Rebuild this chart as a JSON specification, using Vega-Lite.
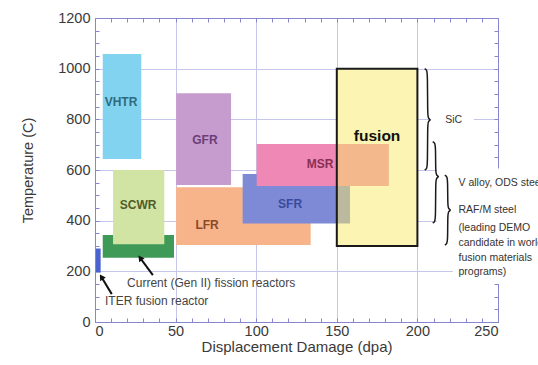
{
  "$schema": "https://vega.github.io/schema/vega-lite/v6.json",
  "width": 403,
  "height": 304,
  "autosize": {"type": "none"},
  "padding": {"left": 95, "top": 18, "right": 40, "bottom": 43},
  "background": "white",
  "config": {"view": {"stroke": null}, "font": "Liberation Sans"},
  "datasets": {
    "boxes": [
      {"name": "Gen II", "x0": 4.8, "x1": 49, "y0": 254, "y1": 343},
      {"name": "ITER", "x0": 0.6, "x1": 3.5, "y0": 195, "y1": 290},
      {"name": "SCWR", "x0": 11.2, "x1": 43, "y0": 307, "y1": 600},
      {"name": "VHTR", "x0": 4.8, "x1": 28.7, "y0": 643, "y1": 1058},
      {"name": "LFR", "x0": 50.3, "x1": 133.8, "y0": 304, "y1": 532},
      {"name": "GFR", "x0": 50.3, "x1": 84.4, "y0": 541, "y1": 903},
      {"name": "SFR", "x0": 91.6, "x1": 158.2, "y0": 389, "y1": 584},
      {"name": "MSR", "x0": 100.3, "x1": 182.3, "y0": 537, "y1": 703}
    ],
    "fusion": [{"name": "fusion", "x0": 150, "x1": 200, "y0": 300, "y1": 1000, "lx": 175, "ly": 734}],
    "labels": [
      {"label": "VHTR", "x": 16.1, "y": 869},
      {"label": "GFR", "x": 68.2, "y": 718},
      {"label": "SCWR", "x": 26.7, "y": 462},
      {"label": "LFR", "x": 69.5, "y": 383},
      {"label": "SFR", "x": 121, "y": 466},
      {"label": "MSR", "x": 139.6, "y": 624}
    ],
    "masks": [
      {"x0": 208.5, "x1": 235, "y0": 768, "y1": 832},
      {"x0": 212, "x1": 285, "y0": 215, "y1": 606},
      {"x0": 222, "x1": 285, "y0": 150, "y1": 215}
    ],
    "notes": [
      {"text": "SiC", "x": 217.3, "y": 798},
      {"text": "V alloy, ODS steel", "x": 225.5, "y": 549},
      {"text": "RAF/M steel", "x": 225.5, "y": 442},
      {"text": "(leading DEMO", "x": 225.5, "y": 372},
      {"text": "candidate in world", "x": 225.5, "y": 312},
      {"text": "fusion materials", "x": 225.5, "y": 254},
      {"text": "programs)", "x": 225.5, "y": 199}
    ],
    "bottomNotes": [
      {"text": "Current (Gen II) fission reactors", "x": 19.9, "y": 154},
      {"text": "ITER fusion reactor", "x": 6.2, "y": 83}
    ],
    "braces": [
      {"b": 1, "o": 1, "x": 204.5, "y": 1000}, {"b": 1, "o": 2, "x": 205.8, "y": 995}, {"b": 1, "o": 3, "x": 206.3, "y": 980}, {"b": 1, "o": 4, "x": 206.3, "y": 815}, {"b": 1, "o": 5, "x": 206.8, "y": 803}, {"b": 1, "o": 6, "x": 208.4, "y": 798}, {"b": 1, "o": 7, "x": 206.8, "y": 793}, {"b": 1, "o": 8, "x": 206.3, "y": 781}, {"b": 1, "o": 9, "x": 206.3, "y": 620}, {"b": 1, "o": 10, "x": 205.8, "y": 605}, {"b": 1, "o": 11, "x": 204.5, "y": 600},
      {"b": 2, "o": 1, "x": 209.5, "y": 712}, {"b": 2, "o": 2, "x": 210.8, "y": 707}, {"b": 2, "o": 3, "x": 211.3, "y": 692}, {"b": 2, "o": 4, "x": 211.3, "y": 591}, {"b": 2, "o": 5, "x": 211.8, "y": 579}, {"b": 2, "o": 6, "x": 213.6, "y": 574}, {"b": 2, "o": 7, "x": 211.8, "y": 569}, {"b": 2, "o": 8, "x": 211.3, "y": 557}, {"b": 2, "o": 9, "x": 211.3, "y": 411}, {"b": 2, "o": 10, "x": 210.8, "y": 396}, {"b": 2, "o": 11, "x": 209.5, "y": 391},
      {"b": 3, "o": 1, "x": 217, "y": 580}, {"b": 3, "o": 2, "x": 218.3, "y": 575}, {"b": 3, "o": 3, "x": 218.8, "y": 560}, {"b": 3, "o": 4, "x": 218.8, "y": 459}, {"b": 3, "o": 5, "x": 219.3, "y": 447}, {"b": 3, "o": 6, "x": 220.9, "y": 442}, {"b": 3, "o": 7, "x": 219.3, "y": 437}, {"b": 3, "o": 8, "x": 218.8, "y": 425}, {"b": 3, "o": 9, "x": 218.8, "y": 324}, {"b": 3, "o": 10, "x": 218.3, "y": 309}, {"b": 3, "o": 11, "x": 217, "y": 304}
    ],
    "arrows": [
      {"a": "ITER", "x": 10.4, "y": 110, "x2": 4.0, "y2": 178},
      {"a": "GenII", "x": 35.9, "y": 185, "x2": 28.0, "y2": 253}
    ]
  },
  "layer": [
    {
      "data": {"name": "fusion"},
      "mark": {"type": "rect", "fill": "white"},
      "encoding": {
        "x": {"field": "x0", "type": "quantitative", "scale": {"domain": [0, 250], "nice": false},
          "axis": {"orient": "top", "values": [0,10,20,30,40,50,60,70,80,90,100,110,120,130,140,150,160,170,180,190,200,210,220,230,240,250], "labels": false, "grid": false, "title": null, "domainColor": "#8686d2", "tickColor": "#8686d2", "tickSize": -4}},
        "x2": {"field": "x1"},
        "y": {"field": "y0", "type": "quantitative", "scale": {"domain": [0, 1200], "nice": false},
          "axis": {"orient": "right", "values": [0,50,100,150,200,250,300,350,400,450,500,550,600,650,700,750,800,850,900,950,1000,1050,1100,1150,1200], "labels": false, "grid": false, "title": null, "domainColor": "#8686d2", "tickColor": "#8686d2", "tickSize": -4}},
        "y2": {"field": "y1"}
      }
    },
    {
      "data": {"name": "boxes"},
      "mark": {"type": "rect"},
      "encoding": {
        "x": {"field": "x0", "type": "quantitative", "scale": {"domain": [0, 250], "nice": false},
          "axis": {"orient": "bottom", "format": "d", "values": [0,10,20,30,40,50,60,70,80,90,100,110,120,130,140,150,160,170,180,190,200,210,220,230,240,250],
            "labelExpr": "datum.value % 50 === 0 ? datum.label : ''", "labelOverlap": false, "labelFontSize": 14.5, "labelColor": "#3a3a3a", "labelPadding": 6,
            "domainColor": "#8686d2", "tickColor": "#8686d2", "tickSize": -4,
            "grid": true, "gridColor": "#c6c6ec", "gridOpacity": {"condition": {"test": "datum.value % 50 === 0", "value": 1}, "value": 0},
            "title": "Displacement Damage (dpa)", "titleFontSize": 15, "titleFontWeight": "normal", "titleColor": "#3a3a3a", "titlePadding": 2}},
        "x2": {"field": "x1"},
        "y": {"field": "y0", "type": "quantitative", "scale": {"domain": [0, 1200], "nice": false},
          "axis": {"orient": "left", "format": "d", "values": [0,50,100,150,200,250,300,350,400,450,500,550,600,650,700,750,800,850,900,950,1000,1050,1100,1150,1200],
            "labelExpr": "datum.value % 200 === 0 ? datum.label : ''", "labelOverlap": false, "labelFontSize": 14.5, "labelColor": "#3a3a3a", "labelPadding": 9,
            "domainColor": "#8686d2", "tickColor": "#8686d2", "tickSize": -4,
            "grid": true, "gridColor": "#c6c6ec", "gridOpacity": {"condition": {"test": "datum.value % 200 === 0", "value": 1}, "value": 0},
            "title": "Temperature (C)", "titleFontSize": 14.5, "titleFontWeight": "normal", "titleColor": "#3a3a3a", "titlePadding": 22}},
        "y2": {"field": "y1"},
        "color": {"field": "name", "type": "nominal", "legend": null,
          "scale": {"domain": ["Gen II", "ITER", "SCWR", "VHTR", "LFR", "GFR", "SFR", "MSR"],
            "range": ["#3f9a58", "#4a62d0", "#d2e4a4", "#82d3ef", "#f7b38a", "#c59ccd", "#7e8ad6", "#ef88b5"]}}
      }
    },
    {
      "data": {"name": "fusion"},
      "mark": {"type": "rect", "fill": "#f7e965", "opacity": 0.5},
      "encoding": {
        "x": {"field": "x0", "type": "quantitative", "axis": null}, "x2": {"field": "x1"},
        "y": {"field": "y0", "type": "quantitative", "axis": null}, "y2": {"field": "y1"}
      }
    },
    {
      "data": {"name": "fusion"},
      "mark": {"type": "rect", "fillOpacity": 0, "stroke": "#1a1a1a", "strokeWidth": 2},
      "encoding": {
        "x": {"field": "x0", "type": "quantitative", "axis": null}, "x2": {"field": "x1"},
        "y": {"field": "y0", "type": "quantitative", "axis": null}, "y2": {"field": "y1"}
      }
    },
    {
      "data": {"name": "masks"},
      "mark": {"type": "rect", "fill": "white"},
      "encoding": {
        "x": {"field": "x0", "type": "quantitative", "axis": null}, "x2": {"field": "x1"},
        "y": {"field": "y0", "type": "quantitative", "axis": null}, "y2": {"field": "y1"}
      }
    },
    {
      "data": {"name": "labels"},
      "mark": {"type": "text", "fontSize": 12, "fontWeight": "bold", "baseline": "middle", "align": "center"},
      "encoding": {
        "x": {"field": "x", "type": "quantitative", "axis": null},
        "y": {"field": "y", "type": "quantitative", "axis": null},
        "text": {"field": "label"},
        "color": {"field": "label", "type": "nominal", "legend": null,
          "scale": {"domain": ["VHTR", "SCWR", "GFR", "LFR", "SFR", "MSR"],
            "range": ["#2e6a7e", "#505c2c", "#6c3c76", "#8a4a2a", "#3a4a9c", "#883054"]}}
      }
    },
    {
      "data": {"name": "fusion"},
      "mark": {"type": "text", "fontSize": 15.5, "fontWeight": "bold", "color": "#111111", "baseline": "middle", "align": "center"},
      "encoding": {
        "x": {"field": "lx", "type": "quantitative", "axis": null},
        "y": {"field": "ly", "type": "quantitative", "axis": null},
        "text": {"field": "name"}
      }
    },
    {
      "data": {"name": "notes"},
      "mark": {"type": "text", "fontSize": 10.5, "color": "#333333", "baseline": "middle", "align": "left"},
      "encoding": {
        "x": {"field": "x", "type": "quantitative", "axis": null},
        "y": {"field": "y", "type": "quantitative", "axis": null},
        "text": {"field": "text"}
      }
    },
    {
      "data": {"name": "bottomNotes"},
      "mark": {"type": "text", "fontSize": 12, "color": "#444444", "baseline": "middle", "align": "left"},
      "encoding": {
        "x": {"field": "x", "type": "quantitative", "axis": null},
        "y": {"field": "y", "type": "quantitative", "axis": null},
        "text": {"field": "text"}
      }
    },
    {
      "data": {"name": "braces"},
      "mark": {"type": "line", "color": "#1a1a1a", "strokeWidth": 1.5, "interpolate": "basis"},
      "encoding": {
        "x": {"field": "x", "type": "quantitative", "axis": null},
        "y": {"field": "y", "type": "quantitative", "axis": null},
        "detail": {"field": "b"},
        "order": {"field": "o"}
      }
    },
    {
      "data": {"name": "arrows"},
      "mark": {"type": "rule", "color": "#111111", "strokeWidth": 2},
      "encoding": {
        "x": {"field": "x", "type": "quantitative", "axis": null},
        "y": {"field": "y", "type": "quantitative", "axis": null},
        "x2": {"field": "x2"},
        "y2": {"field": "y2"}
      }
    },
    {
      "data": {"name": "arrows"},
      "transform": [{"filter": "datum.a === 'ITER'"}],
      "mark": {"type": "point", "shape": "triangle-up", "filled": true, "color": "#111111", "opacity": 1, "size": 45, "angle": 328},
      "encoding": {
        "x": {"field": "x2", "type": "quantitative", "axis": null},
        "y": {"field": "y2", "type": "quantitative", "axis": null}
      }
    },
    {
      "data": {"name": "arrows"},
      "transform": [{"filter": "datum.a === 'GenII'"}],
      "mark": {"type": "point", "shape": "triangle-up", "filled": true, "color": "#111111", "opacity": 1, "size": 45, "angle": 323},
      "encoding": {
        "x": {"field": "x2", "type": "quantitative", "axis": null},
        "y": {"field": "y2", "type": "quantitative", "axis": null}
      }
    }
  ],
  "resolve": {"axis": {"x": "independent", "y": "independent"}, "scale": {"color": "independent"}}
}
